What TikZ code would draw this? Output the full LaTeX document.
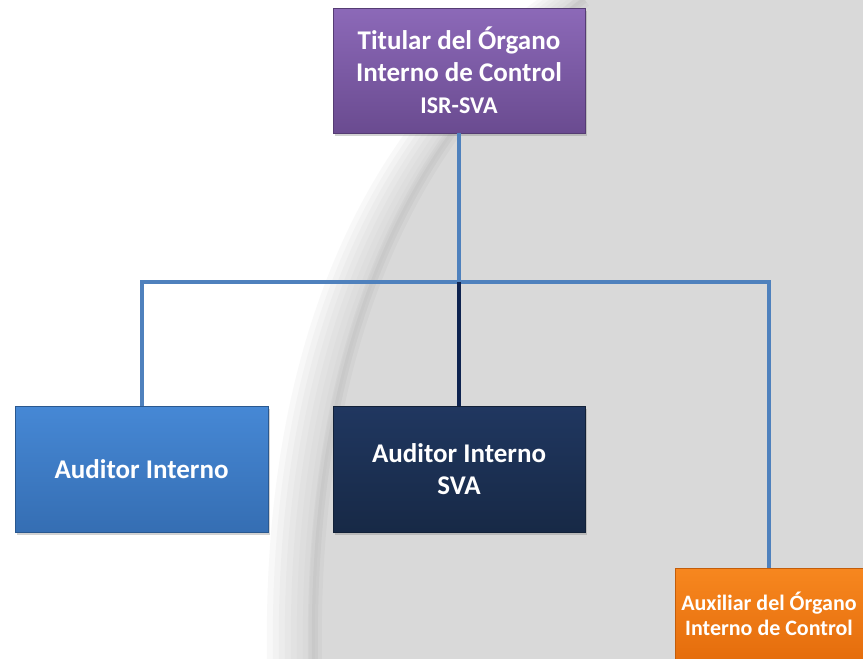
\documentclass[tikz,border=0pt]{standalone}
\usepackage{fontspec}
\setmainfont{Carlito}
\usepackage{tikz}
\usetikzlibrary{shadows, calc, positioning}
\tikzset{>=stealth}
\usepackage{xcolor}
\definecolor{mygray}{HTML}{D9D9D9}
\definecolor{mylink}{HTML}{4F81BD}
\definecolor{mynavyline}{HTML}{0E2350}
\definecolor{purpletop}{HTML}{8C69B8}
\definecolor{purplebot}{HTML}{6A4B90}
\definecolor{bluetop}{HTML}{4688D5}
\definecolor{bluebot}{HTML}{356EB3}
\definecolor{navytop}{HTML}{203760}
\definecolor{navybot}{HTML}{172946}
\definecolor{orangetop}{HTML}{F7871F}
\definecolor{orangebot}{HTML}{E56D0C}

\tikzset{
  box/.style={rectangle, inner sep=0pt, align=center, text=white,
    font=\bfseries\fontsize{27}{32}\selectfont,
    drop shadow={shadow xshift=1.5pt, shadow yshift=-2.5pt, opacity=0.35}},
  boxpurple/.style={box, top color=purpletop, bottom color=purplebot, draw=purplebot!80!black, line width=0.6pt},
  boxblue/.style={box, top color=bluetop, bottom color=bluebot, draw=bluebot!80!black, line width=0.6pt},
  boxnavy/.style={box, top color=navytop, bottom color=navybot, draw=navybot!80!black, line width=0.6pt},
  boxorange/.style={box, top color=orangetop, bottom color=orangebot, draw=orangebot!85!black, line width=0.6pt,
    font=\bfseries\fontsize{22}{25}\selectfont},
  link/.style={line width=4pt, draw=mylink},
}

\begin{document}
\begin{tikzpicture}[x=1pt, y=-1pt]
  \useasboundingbox (0,0) rectangle (863,659);
  \clip (0,0) rectangle (863,659);
  % background
  \fill[white] (0,0) rectangle (863,659);
  \foreach \s in {48,42,...,6}
    \fill[mygray!85!black, opacity=0.09, xshift=-\s pt]
      (585,0) .. controls (420,120) and (310,330) .. (315,659) -- (863,659) -- (863,0) -- cycle;
  \fill[mygray] (585,0) .. controls (420,120) and (310,330) .. (315,659) -- (863,659) -- (863,0) -- cycle;
  \foreach \w/\o in {14/0.025, 6/0.03}
    \draw[line width=\w pt, black, opacity=\o] (585,0) .. controls (420,120) and (310,330) .. (315,659);

  % boxes
  \node[boxpurple, minimum width=252pt, minimum height=125pt] (titular) at (459,70.5)
    {Titular del Órgano\\Interno de Control\\{\fontsize{24}{28}\selectfont ISR-SVA}};
  \node[boxblue, minimum width=253pt, minimum height=126pt] (auditor) at (141.5,469) {Auditor Interno};
  \node[boxnavy, minimum width=252pt, minimum height=126pt] (auditorsva) at (459,469) {Auditor Interno\\SVA};
  \node[boxorange, minimum width=188pt, minimum height=92pt] (auxiliar) at (769,614)
    {Auxiliar del Órgano\\Interno de Control};

  % connectors
  \coordinate (bus) at (459,282);
  \draw[link] (titular.south) -- (bus);
  \draw[link] (bus) -| (auditor.north);
  \draw[link] (bus) -| (auxiliar.north);
  \draw[link, draw=mynavyline] (bus) -- (auditorsva.north);
\end{tikzpicture}
\end{document}
